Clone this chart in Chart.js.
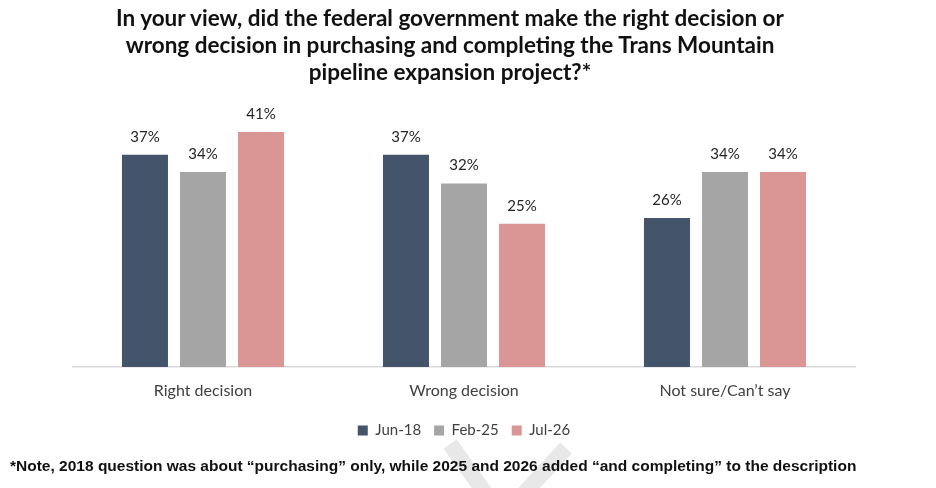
<!DOCTYPE html>
<html>
<head>
<meta charset="utf-8">
<script src="https://cdn.jsdelivr.net/npm/chart.js@4"></script>
<style>
  html, body { margin: 0; padding: 0; background: #fff; }
  #wrap { position: relative; width: 936px; height: 488px; overflow: hidden; }
  #myChart { position: absolute; left: 0; top: 0; }
  #title {
    position: absolute; left: 0; top: 4px; width: 900px;
    text-align: center; font: bold 22.5px Lato, sans-serif; line-height: 27px; color: #111;
  }
  #note {
    position: absolute; left: 10px; top: 457px; white-space: nowrap;
    font: bold 15.5px "Liberation Sans", Arial, sans-serif; line-height: 18px; color: #111;
  }
</style>
</head>
<body>
<div id="wrap">
  <canvas id="myChart" width="936" height="488"></canvas>
  <div id="title">In your view, did the federal government make the right decision or<br>wrong decision in purchasing and completing the Trans Mountain<br>pipeline expansion project?*</div>
  <div id="note">*Note, 2018 question was about “purchasing” only, while 2025 and 2026 added “and completing” to the description</div>
</div>
<script>
// Datos del gráfico
const categories = ['Right decision', 'Wrong decision', 'Not sure/Can\u2019t say'];
const seriesNames = ['Jun-18', 'Feb-25', 'Jul-26'];
const jun18 = [37, 37, 26];
const feb25 = [34, 32, 34];
const jul26 = [41, 25, 34];
const colors = ['#44546A', '#A5A5A5', '#D99694'];

// Etiquetas de valor encima de cada barra
const valueLabels = {
    id: 'valueLabels',
    afterDatasetsDraw(chart) {
        const ctx = chart.ctx;
        ctx.save();
        ctx.font = '15px Lato, sans-serif';
        ctx.fillStyle = '#262626';
        ctx.textAlign = 'center';
        ctx.textBaseline = 'middle';
        chart.data.datasets.forEach((ds, i) => {
            chart.getDatasetMeta(i).data.forEach((bar, j) => {
                ctx.fillText(ds.data[j] + '%', bar.x, bar.y - 18);
            });
        });
        ctx.restore();
    }
};

// Marca de agua gris al pie
const watermark = {
    id: 'watermark',
    beforeDraw(chart) {
        const ctx = chart.ctx;
        ctx.save();
        ctx.strokeStyle = '#e8e8e8';
        ctx.lineWidth = 16;
        ctx.beginPath();
        ctx.moveTo(450, 444);
        ctx.lineTo(490, 500);
        ctx.moveTo(566, 448);
        ctx.lineTo(518, 500);
        ctx.stroke();
        ctx.restore();
    }
};

const config = {
    type: 'bar',
    data: {
        labels: categories,
        datasets: [
            { label: seriesNames[0], data: jun18, backgroundColor: colors[0] },
            { label: seriesNames[1], data: feb25, backgroundColor: colors[1] },
            { label: seriesNames[2], data: jul26, backgroundColor: colors[2] }
        ]
    },
    options: {
        responsive: false,
        animation: false,
        layout: { padding: { left: 72.5, right: 80.5, top: 109, bottom: 40 } },
        datasets: { bar: { categoryPercentage: 0.667, barPercentage: 0.793 } },
        scales: {
            x: {
                grid: { display: false, drawTicks: false },
                border: { display: true, color: '#d9d9d9', width: 1.5 },
                ticks: { padding: 14, color: '#404040', font: { family: 'Lato', size: 16 } },
                afterFit(scale) { scale.height = 43; }
            },
            y: { display: false, min: 0, max: 45 }
        },
        plugins: {
            legend: {
                position: 'bottom',
                labels: {
                    boxWidth: 10, boxHeight: 10, padding: 13,
                    color: '#404040', font: { family: 'Lato', size: 15 }
                }
            },
            tooltip: { enabled: false }
        }
    },
    plugins: [watermark, valueLabels]
};

var myChart = new Chart(document.getElementById('myChart'), config);
</script>
</body>
</html>
